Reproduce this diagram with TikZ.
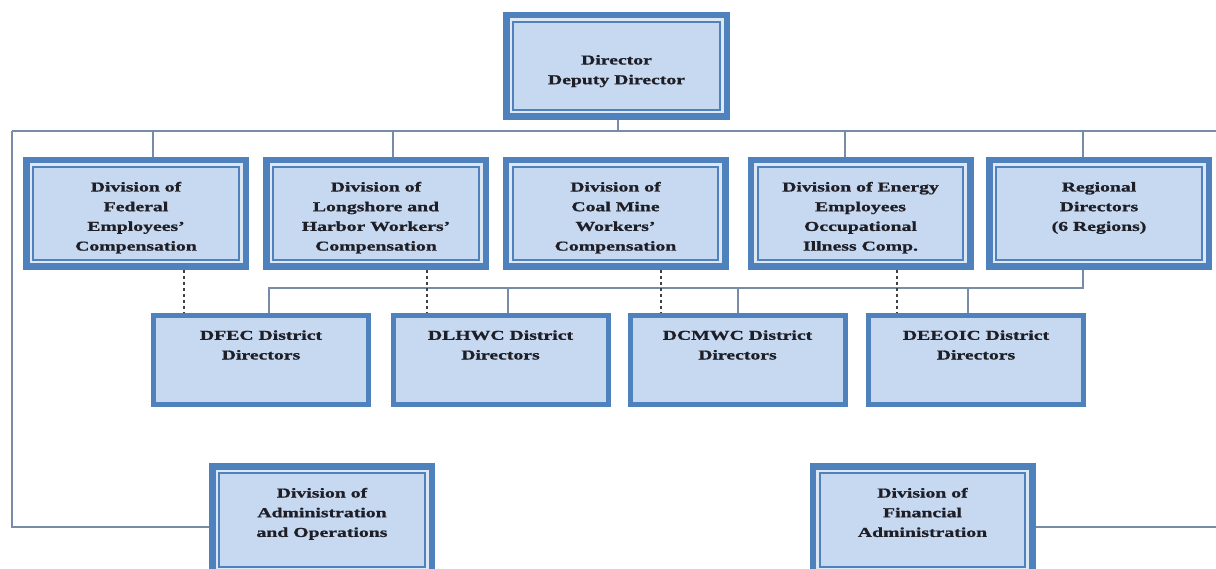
\documentclass[tikz,border=0pt]{standalone}
\usepackage{fontspec}
\usepackage{xcolor}
\usepackage{tikz}
\newfontfamily\orgfont[FakeStretch=1.45,FakeBold=1]{Liberation Serif}
\definecolor{orgblue}{RGB}{79,129,189}
\definecolor{orgfill}{RGB}{198,217,241}
\definecolor{orggap}{RGB}{222,232,245}
\definecolor{orgline}{RGB}{120,140,168}
\definecolor{orgtext}{RGB}{30,30,38}

\begin{document}
\begin{tikzpicture}[x=1pt,y=-1pt,
    orgtxt/.style={align=center,text=orgtext,
        font=\orgfont\bfseries\fontsize{13.6}{19.7}\selectfont},
    divbox/.style={orgtxt,draw=orgblue,line width=2pt,double=orggap,
        double distance=2.7pt,fill=orgfill,
        preaction={draw=orgblue,line width=15.7pt},
        minimum width=210.3pt,minimum height=97.3pt,outer sep=7.85pt,
        text height=74.2pt,text depth=0pt},
    distbox/.style={orgtxt,draw=orgblue,line width=5pt,fill=orgfill,
        minimum width=215pt,minimum height=89pt,outer sep=2.5pt,
        text height=29pt,text depth=30pt},
    link/.style={draw=orgline,line width=1.3pt},
    dashlink/.style={draw=darkgray,line width=1.2pt,dash pattern=on 3pt off 3pt}]

\clip (0,0) rectangle (1216,569);

% top of the chart
\node[divbox,minimum width=211.3pt,minimum height=92.3pt,
    text height=40.4pt,text depth=4pt] (dir) at (616.5,66)
    {Director\\Deputy Director};

% the five divisions
\node[divbox] (fec) at (136,213.5)
    {Division of\\Federal\\Employees’\\Compensation};
\node[divbox] (lhwc) at (376,213.5)
    {Division of\\Longshore and\\Harbor Workers’\\Compensation};
\node[divbox] (cmwc) at (615.5,213.5)
    {Division of\\Coal Mine\\Workers’\\Compensation};
\node[divbox] (eeoic) at (860.5,213.5)
    {Division of Energy\\Employees\\Occupational\\Illness Comp.};
\node[divbox,text height=44.8pt,text depth=10pt] (reg) at (1099,213.5)
    {Regional\\Directors\\(6 Regions)};

% district directors
\node[distbox] (dfec) at (261,360) {DFEC District\\Directors};
\node[distbox] (dlhwc) at (500.5,360) {DLHWC District\\Directors};
\node[distbox] (dcmwc) at (737.5,360) {DCMWC District\\Directors};
\node[distbox] (deeoic) at (976,360) {DEEOIC District\\Directors};

% bottom row
\node[divbox,minimum height=98.3pt,text height=48.8pt,text depth=15pt]
    (admin) at (322,520) {Division of\\Administration\\and Operations};
\node[divbox,minimum height=98.3pt,text height=48.8pt,text depth=15pt]
    (fin) at (922.5,520) {Division of\\Financial\\Administration};

% main bus
\coordinate (busL) at (12,131);
\coordinate (busR) at (1216,131);
\coordinate (finR) at (1216,527);
\coordinate (subL) at (0,288);

\draw[link] (busL) -- (busR);
\draw[link] ([xshift=1.5pt]dir.south) -- ([xshift=1.5pt]dir.south |- busL);
\draw[link] ([xshift=17pt]fec.north) -- ([xshift=17pt]fec.north |- busL);
\draw[link] ([xshift=17pt]lhwc.north) -- ([xshift=17pt]lhwc.north |- busL);
\draw[link] ([xshift=-15.5pt]eeoic.north) -- ([xshift=-15.5pt]eeoic.north |- busL);
\draw[link] ([xshift=-16pt]reg.north) -- ([xshift=-16pt]reg.north |- busL);
\draw[link] (busL) |- ([yshift=-7pt]admin.west);
\draw[link] ([yshift=-7pt]fin.east) -- (finR);

% regional directors to the districts
\draw[link] ([xshift=-16pt]reg.south) |- ([xshift=8pt]dfec.north |- subL)
    -- ([xshift=8pt]dfec.north);
\draw[link] ([xshift=7.5pt]dlhwc.north) -- ([xshift=7.5pt]dlhwc.north |- subL);
\draw[link] ([xshift=0.5pt]dcmwc.north) -- ([xshift=0.5pt]dcmwc.north |- subL);
\draw[link] ([xshift=-8pt]deeoic.north) -- ([xshift=-8pt]deeoic.north |- subL);

% dotted lines from the divisions
\draw[dashlink] ([xshift=48pt]fec.south) -- ([xshift=48pt]fec.south |- dfec.north);
\draw[dashlink] ([xshift=51pt]lhwc.south) -- ([xshift=51pt]lhwc.south |- dlhwc.north);
\draw[dashlink] ([xshift=45.5pt]cmwc.south) -- ([xshift=45.5pt]cmwc.south |- dcmwc.north);
\draw[dashlink] ([xshift=36.5pt]eeoic.south) -- ([xshift=36.5pt]eeoic.south |- deeoic.north);
\end{tikzpicture}
\end{document}
